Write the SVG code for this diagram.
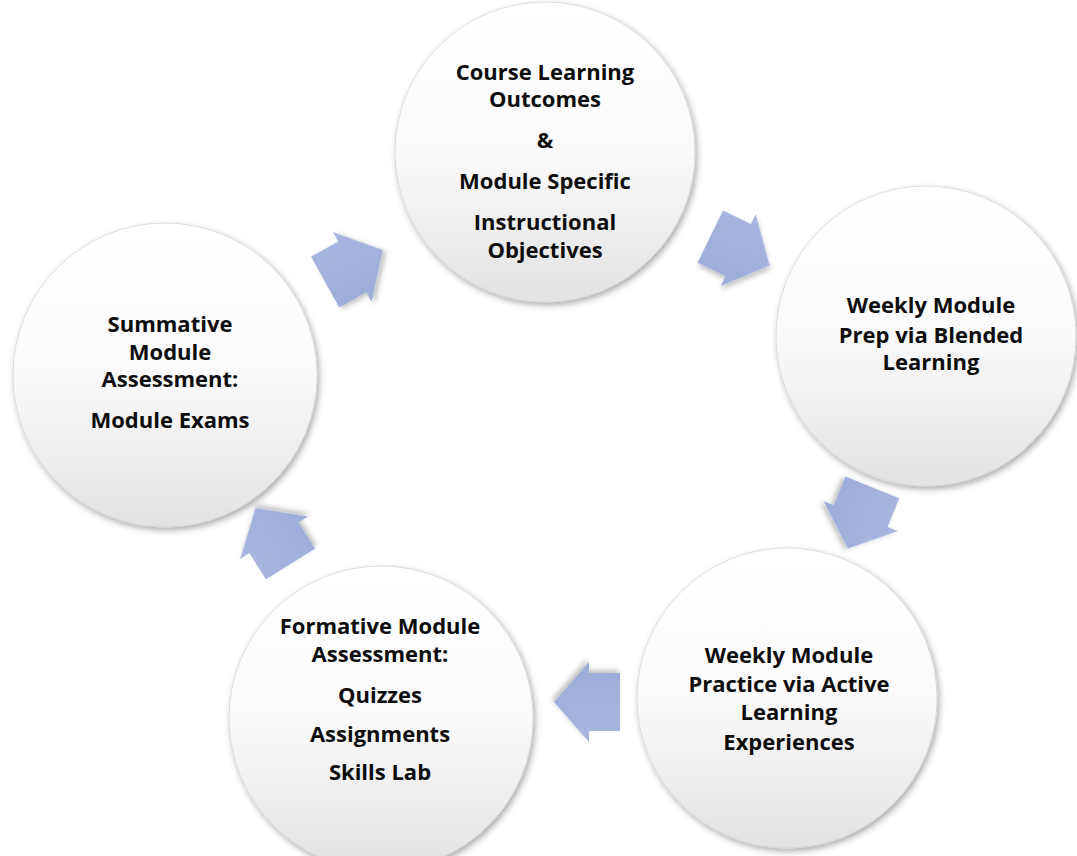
<svg xmlns="http://www.w3.org/2000/svg" width="1077" height="856" viewBox="0 0 1077 856">
<style>
.t{font-family:"Open Sans","Liberation Sans",sans-serif;font-weight:700;font-size:22px;fill:#0d0d0d;text-anchor:middle}
.c{fill:url(#cg);stroke:#d6d6d6;stroke-width:0.8;filter:url(#sh)}
.a{fill:url(#ag);filter:url(#ash)}
</style>
<defs>
<linearGradient id="cg" x1="0" y1="0" x2="0" y2="1">
<stop offset="0" stop-color="#ffffff"/>
<stop offset="0.5" stop-color="#fafafa"/>
<stop offset="1" stop-color="#e2e2e2"/>
</linearGradient>
<linearGradient id="ag" x1="0" y1="0" x2="0" y2="1">
<stop offset="0" stop-color="#a9b6e0"/>
<stop offset="1" stop-color="#9dabd8"/>
</linearGradient>
<filter id="sh" x="-10%" y="-10%" width="125%" height="125%">
<feDropShadow dx="2" dy="3" stdDeviation="3" flood-color="#000" flood-opacity="0.33"/>
</filter>
<filter id="ash" x="-20%" y="-20%" width="150%" height="150%">
<feDropShadow dx="2" dy="3" stdDeviation="2.5" flood-color="#000" flood-opacity="0.25"/>
</filter>
<path id="arr" d="M-33,-29 L-2,-29 L-2,-40 L33,0 L-2,40 L-2,29 L-33,29 Z"/>
</defs>
<rect width="1077" height="856" fill="#ffffff"/>
<g id="connectors">
<use href="#arr" class="a" transform="translate(354,266) rotate(-29)"/>
<use href="#arr" class="a" transform="translate(740,251) rotate(26)"/>
<use href="#arr" class="a" transform="translate(860,518) rotate(112)"/>
<use href="#arr" class="a" transform="translate(587,702) rotate(180)"/>
<use href="#arr" class="a" transform="translate(273,536) rotate(238)"/>
</g>
<g id="node-outcomes">
<circle class="c" cx="545" cy="152" r="150"/>
<text class="t" x="545" y="80">Course Learning</text>
<text class="t" x="545" y="107">Outcomes</text>
<text class="t" x="545" y="148">&amp;</text>
<text class="t" x="545" y="189">Module Specific</text>
<text class="t" x="545" y="230">Instructional</text>
<text class="t" x="545" y="258">Objectives</text>
</g>
<g id="node-prep">
<circle class="c" cx="926" cy="336" r="150"/>
<text class="t" x="931" y="313">Weekly Module</text>
<text class="t" x="931" y="343">Prep via Blended</text>
<text class="t" x="931" y="370">Learning</text>
</g>
<g id="node-practice">
<circle class="c" cx="787" cy="698" r="150"/>
<text class="t" x="789" y="663">Weekly Module</text>
<text class="t" x="789" y="692">Practice via Active</text>
<text class="t" x="789" y="720">Learning</text>
<text class="t" x="789" y="750">Experiences</text>
</g>
<g id="node-formative">
<circle class="c" cx="381" cy="718" r="152"/>
<text class="t" x="380" y="634">Formative Module</text>
<text class="t" x="380" y="662">Assessment:</text>
<text class="t" x="380" y="703">Quizzes</text>
<text class="t" x="380" y="742">Assignments</text>
<text class="t" x="380" y="780">Skills Lab</text>
</g>
<g id="node-summative">
<circle class="c" cx="165" cy="375" r="152"/>
<text class="t" x="170" y="332">Summative</text>
<text class="t" x="170" y="360">Module</text>
<text class="t" x="170" y="387">Assessment:</text>
<text class="t" x="170" y="428">Module Exams</text>
</g>
</svg>
